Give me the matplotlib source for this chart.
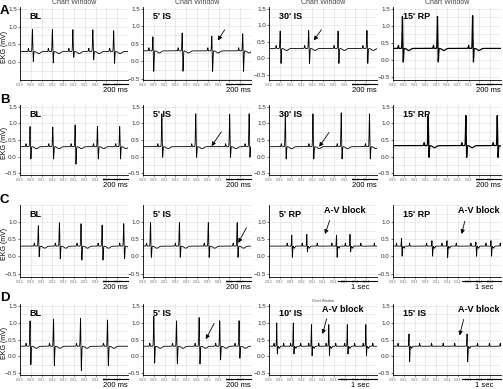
import numpy as np
import matplotlib.pyplot as plt

plt.rcParams['font.family'] = ['Liberation Sans', 'DejaVu Sans']

# ---- data: QRS times (ms), R peak / S trough (mV), P waves for the block strips
a1_qrs = [99, 258, 421, 580, 746]
a1_r = [0.93, 0.93, 0.92, 0.92, 0.90]
a1_s = [0.0, -0.04, 0.12, 0.05, -0.05]

a2_qrs = [79, 312, 548, 794]
a2_r = [0.72, 0.83, 0.74, 0.81]
a2_s = [-0.30, -0.30, -0.30, -0.30]

a3_qrs = [89, 316, 550, 780]
a3_r = [0.84, 0.86, 0.84, 0.86]
a3_s = [-0.17, -0.17, -0.17, -0.17]

a4_qrs = [75, 354, 634]
a4_r = [1.29, 1.29, 1.31]
a4_s = [-0.10, -0.10, -0.10]

b1_qrs = [80, 261, 439, 617, 794]
b1_r = [0.92, 0.90, 0.97, 0.92, 0.92]
b1_s = [-0.09, -0.09, -0.25, -0.09, -0.09]

b2_qrs = [150, 420, 690, 845]
b2_r = [1.30, 1.30, 1.28, 1.30]
b2_s = [-0.05, -0.05, -0.05, -0.05]

b3_qrs = [130, 350, 575, 800]
b3_r = [1.33, 1.30, 1.33, 1.30]
b3_s = [-0.10, -0.10, -0.10, -0.10]

b4_qrs = [280, 580, 830]
b4_r = [1.25, 1.25, 1.25]
b4_s = [-0.05, -0.05, -0.05]

c1_qrs = [146, 314, 486, 654, 826]
c1_r = [0.91, 1.00, 0.97, 0.93, 0.97]
c1_s = [-0.03, -0.09, -0.13, -0.13, -0.09]

c2_qrs = [60, 290, 520, 750]
c2_r = [1.00, 1.00, 1.00, 1.00]
c2_s = [-0.05, -0.05, -0.05, -0.05]

c3_qrs = [590, 980, 1750, 2100]
c3_r = [0.63, 0.65, 0.63, 0.65]
c3_s = [-0.04, 0.12, -0.04, 0.12]
c3_p = [470, 860, 1250, 1630, 1980, 2380, 2730]

c4_qrs = [220, 1010, 1400, 2150, 2540]
c4_r = [0.54, 0.47, 0.47, 0.43, 0.47]
c4_s = [0.0, 0.0, -0.04, 0.0, 0.0]
c4_p = [90, 430, 870, 1270, 1640, 2020, 2410, 2780]

d1_qrs = [80, 267, 482, 697]
d1_r = [1.07, 1.13, 1.16, 1.10]
d1_s = [-0.27, -0.30, -0.45, -0.30]

d2_qrs = [86, 267, 447, 611, 765]
d2_r = [1.20, 1.07, 1.17, 1.07, 1.07]
d2_s = [-0.23, -0.25, -0.25, -0.13, -0.08]

d3_qrs = [200, 630, 1100, 1550, 2030, 2510]
d3_r = [1.00, 1.00, 0.95, 0.95, 0.95, 0.95]
d3_s = [0.05, 0.05, 0.0, 0.0, 0.05, 0.0]
d3_p = [130, 380, 560, 820, 1030, 1290, 1480, 1730, 1960, 2220, 2440, 2690]

d4_qrs = [415, 1920]
d4_r = [0.68, 0.68]
d4_s = [-0.17, -0.17]
d4_p = [130, 690, 1000, 1300, 1600, 2190, 2500, 2780]

stage_labels = ["BL", "5' IS", "30' IS", "15' RP",
                "BL", "5' IS", "30' IS", "15' RP",
                "BL", "5' IS", "5' RP", "15' RP",
                "BL", "5' IS", "10' IS", "15' IS"]
row_letters = ["A", "B", "C", "D"]

strips = [
    (a1_qrs, a1_r, a1_s, None), (a2_qrs, a2_r, a2_s, None), (a3_qrs, a3_r, a3_s, None), (a4_qrs, a4_r, a4_s, None),
    (b1_qrs, b1_r, b1_s, None), (b2_qrs, b2_r, b2_s, None), (b3_qrs, b3_r, b3_s, None), (b4_qrs, b4_r, b4_s, None),
    (c1_qrs, c1_r, c1_s, None), (c2_qrs, c2_r, c2_s, None), (c3_qrs, c3_r, c3_s, c3_p), (c4_qrs, c4_r, c4_s, c4_p),
    (d1_qrs, d1_r, d1_s, None), (d2_qrs, d2_r, d2_s, None), (d3_qrs, d3_r, d3_s, d3_p), (d4_qrs, d4_r, d4_s, d4_p),
]


def trace(t, qrs, r, s, p, base, w):
    # one strip of EKG built from the beats above
    y = np.full_like(t, base)
    for t0, rr, ss in zip(qrs, r, s):
        y += (rr - base) * np.exp(-((t - t0) / w) ** 2)
        y += (ss - base) * np.exp(-((t - t0 - 1.8 * w) / w) ** 2)
        y += -0.06 * np.exp(-((t - t0 - 3 * w - 40) / 18) ** 2)
    if p is None:
        p = [t0 - 32 for t0 in qrs]
    for tp in p:
        y += 0.09 * np.exp(-((t - tp) / (0.9 * w)) ** 2)
    return y


fig = plt.figure(figsize=(5.03, 3.89), dpi=100)

lefts = [20, 143, 269, 393]
rows = [(7, 80), (105, 175), (205, 277), (304, 375)]
letter_y = [11, 100, 200, 298]
ylims = [[(-0.35, 1.55), (-0.53, 1.55), (-0.65, 1.55), (-0.6, 1.55)],
         [(-0.55, 1.55)] * 4,
         [(-0.6, 1.25)] * 4,
         [(-0.55, 1.55)] * 4]

# arrow tip / tail in axes fractions
arrows = {1: ((0.68, 0.51), (0.77, 0.72)), 2: ((0.40, 0.51), (0.50, 0.72)),
          5: ((0.62, 0.38), (0.74, 0.65)), 6: ((0.45, 0.37), (0.57, 0.64)),
          9: ((0.87, 0.44), (0.97, 0.72)), 13: ((0.57, 0.47), (0.67, 0.76))}
# A-V block text position, arrow tail, arrow tip
blocks = {10: ((0.70, 0.93), (0.57, 0.82), (0.51, 0.56)),
          11: ((0.79, 0.93), (0.67, 0.81), (0.63, 0.56)),
          14: ((0.68, 0.92), (0.54, 0.83), (0.49, 0.54)),
          15: ((0.79, 0.92), (0.66, 0.82), (0.61, 0.52))}

for i in range(4):
    top, bot = rows[i]
    fig.text(0, 1 - letter_y[i] / 389, row_letters[i], fontsize=9.5,
             fontweight='bold', ha='left', va='center')
    fig.text(5 / 503, 1 - (top + bot + 6) / 2 / 389, "EKG (mV)", fontsize=5,
             rotation=90, ha='center', va='center')
    for j in range(4):
        k = 4 * i + j
        ax = fig.add_axes([lefts[j] / 503, 1 - bot / 389, 108 / 503, (bot - top) / 389])
        long_strip = strips[k][3] is not None
        xmax = 2800 if long_strip else 860
        w = 9 if long_strip else 3.5
        t = np.linspace(0, xmax, 8000)
        noisy = j == 3 and i < 2
        base = 0.33 if noisy else 0.3
        y = trace(t, *strips[k], base, w)
        ax.plot(t, y, color='k', lw=0.9 if noisy else 0.6)
        ax.set_xlim(0, xmax)
        ax.set_ylim(*ylims[i][j])
        ax.set_yticks([v for v in [-0.5, 0.0, 0.5, 1.0, 1.5] if ylims[i][j][0] <= v <= ylims[i][j][1]])
        ax.set_yticks(np.arange(-0.5, 1.51, 0.25), minor=True)
        ax.tick_params(axis='y', labelsize=4.5, length=1.5, width=0.5, pad=0.8, colors='#333333')
        ax.tick_params(axis='y', which='minor', length=0)
        xt = np.linspace(0, xmax, 11)[:-1]
        ax.set_xticks(xt)
        ax.set_xticklabels(["0:0%d.%d" % (int(v // 1000), int(v % 1000) // 100) for v in xt])
        ax.tick_params(axis='x', labelsize=1.8, length=1.5, width=0.4, pad=0.5, colors='#555555')
        ax.grid(True, which='both', color='#dcdcdc', lw=0.4)
        ax.set_axisbelow(True)
        for sp in ['top', 'right']:
            ax.spines[sp].set_visible(False)
        for sp in ['left', 'bottom']:
            ax.spines[sp].set_linewidth(0.6)
        ax.text(0.09, 0.87, stage_labels[k], transform=ax.transAxes, fontsize=6.5,
                fontweight='bold', ha='left', va='center')
        # scale bar
        if long_strip:
            ax.plot([0.64, 1.0], [-0.05, -0.05], transform=ax.transAxes, color='k', lw=0.8, clip_on=False)
            ax.text(0.84, -0.15, "1 sec", transform=ax.transAxes, fontsize=5.5, ha='center', va='center')
        else:
            ax.plot([0.77, 1.0], [-0.05, -0.05], transform=ax.transAxes, color='k', lw=0.8, clip_on=False)
            ax.text(0.885, -0.15, "200 ms", transform=ax.transAxes, fontsize=5.5, ha='center', va='center')
        if i == 0:
            ax.text(0.5, 1.01, "Chart Window", transform=ax.transAxes, fontsize=5,
                    color='#444444', ha='center', va='bottom')
        if k == 14:
            ax.text(0.5, 1.02, "Chart Window", transform=ax.transAxes, fontsize=2.5,
                    color='#444444', ha='center', va='bottom')
        if k in arrows:
            tip, tail = arrows[k]
            ax.annotate("", xy=tip, xytext=tail, xycoords='axes fraction',
                        arrowprops=dict(arrowstyle='-|>', color='k', lw=0.6, mutation_scale=6))
        if k in blocks:
            pos, tail, tip = blocks[k]
            ax.text(pos[0], pos[1], "A-V block", transform=ax.transAxes, fontsize=6.5,
                    fontweight='bold', ha='center', va='center')
            ax.annotate("", xy=tip, xytext=tail, xycoords='axes fraction',
                        arrowprops=dict(arrowstyle='-|>', color='k', lw=0.6, mutation_scale=6))

fig.savefig("out.png", dpi=100)
